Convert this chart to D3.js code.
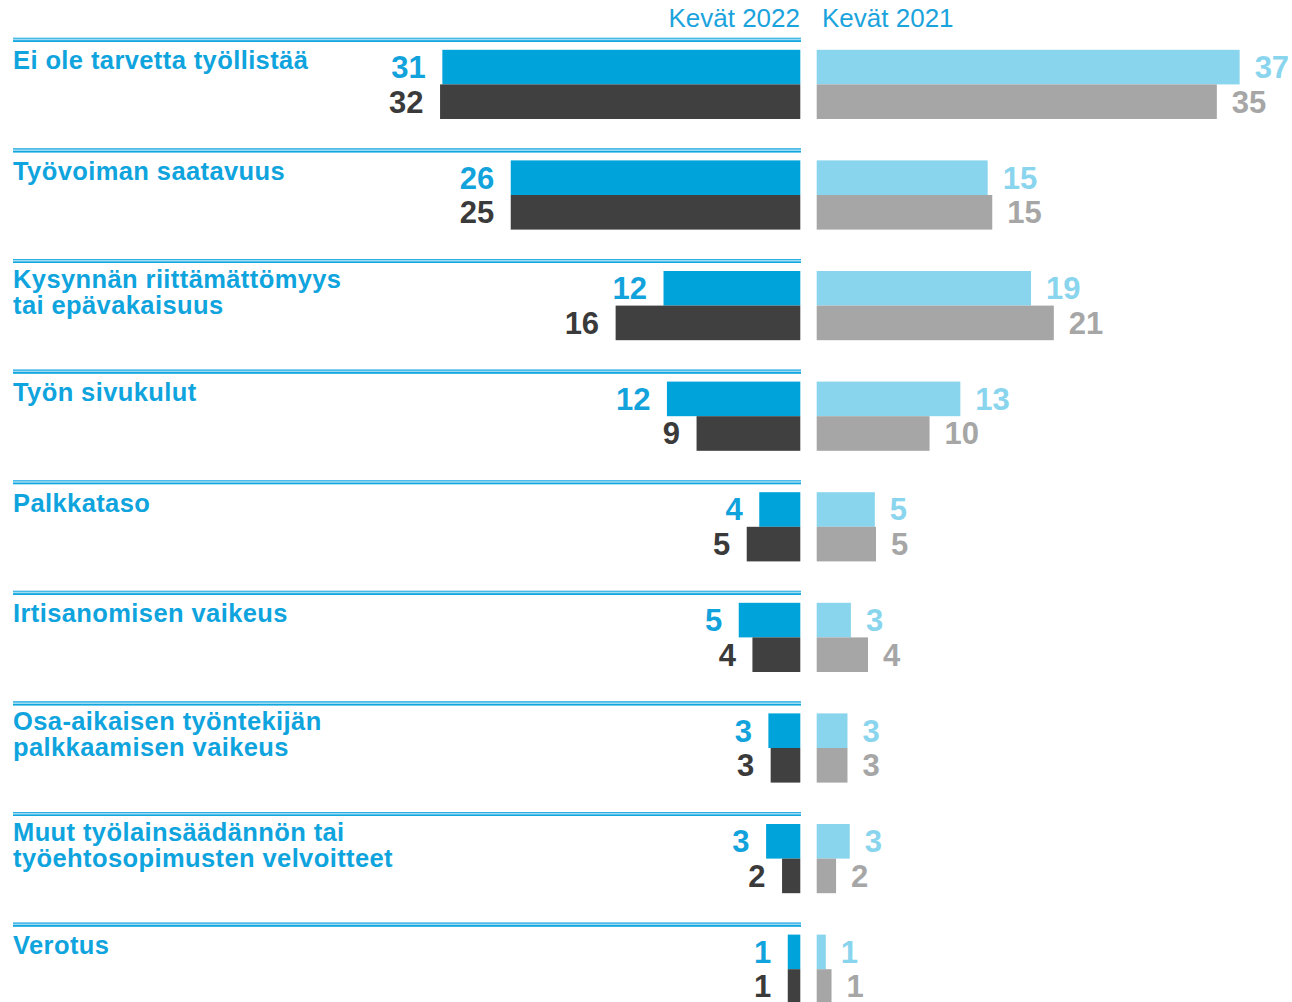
<!DOCTYPE html>
<html>
<head>
<meta charset="utf-8">
<script src="https://cdn.jsdelivr.net/npm/d3@7"></script>
<style>
  html, body { margin: 0; padding: 0; background: #fff; }
  svg { display: block; }
</style>
</head>
<body>
<svg id="chart" width="1292" height="1002"></svg>
<script>
// ---- data ----
const categories = [
  ["Ei ole tarvetta työllistää"],
  ["Työvoiman saatavuus"],
  ["Kysynnän riittämättömyys", "tai epävakaisuus"],
  ["Työn sivukulut"],
  ["Palkkataso"],
  ["Irtisanomisen vaikeus"],
  ["Osa-aikaisen työntekijän", "palkkaamisen vaikeus"],
  ["Muut työlainsäädännön tai", "työehtosopimusten velvoitteet"],
  ["Verotus"]
];
const periodHeaders = ["Kevät 2022", "Kevät 2021"];

// Kevät 2022 (left panel): top series (blue) and bottom series (dark)
const spring2022Top    = [31.4, 25.4, 12.0, 11.7, 3.6, 5.4, 2.8, 3.0, 1.1];
const spring2022Bottom = [31.6, 25.4, 16.2, 9.1, 4.7, 4.2, 2.6, 1.6, 1.1];
// Kevät 2021 (right panel): top series (light blue) and bottom series (grey)
const spring2021Top    = [37.1, 15.0, 18.8, 12.6, 5.1, 3.0, 2.7, 2.9, 0.8];
const spring2021Bottom = [35.1, 15.4, 20.8, 9.9, 5.2, 4.5, 2.7, 1.7, 1.3];

// printed value labels
const labels2022Top    = [31, 26, 12, 12, 4, 5, 3, 3, 1];
const labels2022Bottom = [32, 25, 16, 9, 5, 4, 3, 2, 1];
const labels2021Top    = [37, 15, 19, 13, 5, 3, 3, 3, 1];
const labels2021Bottom = [35, 15, 21, 10, 5, 4, 3, 2, 1];

// ---- layout ----
const svg = d3.select("#chart");
const FONT = "'Liberation Sans', Arial, Helvetica, sans-serif";
const leftZero = 800.3, rightZero = 816.7;
const sepX0 = 13, sepX1 = 801;
const firstSep = 39.8, step = 110.6;
const barOffset = 10, barH = 34.6;

const colors = {
  blue: "#00a3da", dark: "#404040", light: "#8ad5ee", grey: "#a6a6a6",
  text: "#0fa4dd", labDark: "#3a3a3a"
};

const len = d3.scaleLinear().domain([0, 40]).range([0, 456]);
const idx = categories.map((_, i) => i);
const y = d3.scaleBand().domain(idx).range([firstSep, firstSep + step * categories.length]).paddingInner(0).paddingOuter(0);

// headers
svg.append("text").attr("x", 800).attr("y", 27).attr("text-anchor", "end")
  .attr("font-family", FONT).attr("font-size", 26).attr("fill", "#1aa3dc").text(periodHeaders[0]);
svg.append("text").attr("x", 822).attr("y", 27).attr("text-anchor", "start")
  .attr("font-family", FONT).attr("font-size", 26).attr("fill", "#1aa3dc").text(periodHeaders[1]);

const g = svg.selectAll("g.grp").data(idx).join("g").attr("class", "grp")
  .attr("transform", i => `translate(0,${y(i)})`);

// separator double line
g.append("rect").attr("x", sepX0).attr("y", -2).attr("width", sepX1 - sepX0).attr("height", 4).attr("fill", "#9fdcf3");
g.append("line").attr("x1", sepX0).attr("x2", sepX1).attr("y1", -1.5).attr("y2", -1.5)
  .attr("stroke", "#2eaee3").attr("stroke-width", 1.1);
g.append("line").attr("x1", sepX0).attr("x2", sepX1).attr("y1", 1.3).attr("y2", 1.3)
  .attr("stroke", "#12a6de").attr("stroke-width", 1.6);

// category labels
g.each(function(i) {
  const lines = categories[i];
  const t = d3.select(this).append("text")
    .attr("font-family", FONT).attr("font-weight", "bold").attr("font-size", 25.5)
    .attr("letter-spacing", 0.4).attr("fill", colors.text);
  const base = lines.length > 1 ? 27 : 29.5;
  lines.forEach((ln, k) => {
    t.append("tspan").attr("x", 13).attr("y", base + k * 26).text(ln);
  });
});

function drawSeries(vals, labs, row, side, fill, labFill) {
  const yTop = barOffset + row * barH;
  g.append("rect")
    .attr("x", i => side === "left" ? leftZero - len(vals[i]) : rightZero)
    .attr("y", yTop)
    .attr("width", i => len(vals[i]))
    .attr("height", barH)
    .attr("fill", fill);
  g.append("text")
    .attr("x", i => side === "left" ? leftZero - len(vals[i]) - 16.5 : rightZero + len(vals[i]) + 15)
    .attr("y", yTop + barH / 2 + 11)
    .attr("text-anchor", side === "left" ? "end" : "start")
    .attr("font-family", FONT).attr("font-weight", "bold").attr("font-size", 31)
    .attr("fill", labFill)
    .text(i => labs[i]);
}

drawSeries(spring2022Top, labels2022Top, 0, "left", colors.blue, "#12a3dc");
drawSeries(spring2022Bottom, labels2022Bottom, 1, "left", colors.dark, colors.labDark);
drawSeries(spring2021Top, labels2021Top, 0, "right", colors.light, colors.light);
drawSeries(spring2021Bottom, labels2021Bottom, 1, "right", colors.grey, colors.grey);
</script>
</body>
</html>
